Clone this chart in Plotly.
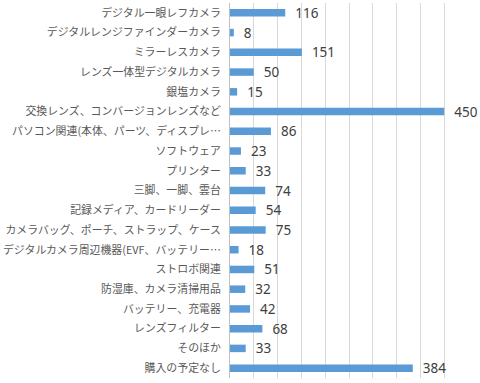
import plotly.graph_objects as go

categories = [
    "デジタル一眼レフカメラ",
    "デジタルレンジファインダーカメラ",
    "ミラーレスカメラ",
    "レンズ一体型デジタルカメラ",
    "銀塩カメラ",
    "交換レンズ、コンバージョンレンズなど",
    "パソコン関連(本体、パーツ、ディスプレ…",
    "ソフトウェア",
    "プリンター",
    "三脚、一脚、雲台",
    "記録メディア、カードリーダー",
    "カメラバッグ、ポーチ、ストラップ、ケース",
    "デジタルカメラ周辺機器(EVF、バッテリー…",
    "ストロボ関連",
    "防湿庫、カメラ清掃用品",
    "バッテリー、充電器",
    "レンズフィルター",
    "そのほか",
    "購入の予定なし",
]
values = [116, 8, 151, 50, 15, 450, 86, 23, 33, 74, 54, 75, 18, 51, 32, 42, 68, 33, 384]

fig = go.Figure(go.Bar(
    x=values,
    y=categories,
    orientation="h",
    marker=dict(color="#5B9BD5", line=dict(width=0)),
    text=["  " + str(v) for v in values],
    textposition="outside",
    constraintext="none",
    textfont=dict(size=13.5, color="#404040", family="Noto Sans"),
    cliponaxis=False,
))

fig.update_layout(
    width=480, height=383,
    margin=dict(l=230, r=12, t=3, b=5),
    paper_bgcolor="white",
    plot_bgcolor="white",
    showlegend=False,
    bargap=0.62,
    font=dict(family="Noto Sans CJK JP", color="#595959", size=10.9),
    xaxis=dict(
        range=[0, 500],
        dtick=50,
        showgrid=True,
        gridcolor="#D9D9D9",
        gridwidth=1,
        showticklabels=False,
        zeroline=False,
        showline=False,
        ticks="",
        automargin=False,
    ),
    yaxis=dict(
        autorange="reversed",
        showline=True,
        linecolor="#BFBFBF",
        linewidth=1,
        ticks="",
        tickfont=dict(size=10.9, color="#595959"),
        ticklabelstandoff=6,
        automargin=False,
    ),
)

fig.write_html(
    "out.html",
    config={"displayModeBar": False},
    post_script="document.body.style.margin='0';document.body.style.overflow='hidden';",
)
